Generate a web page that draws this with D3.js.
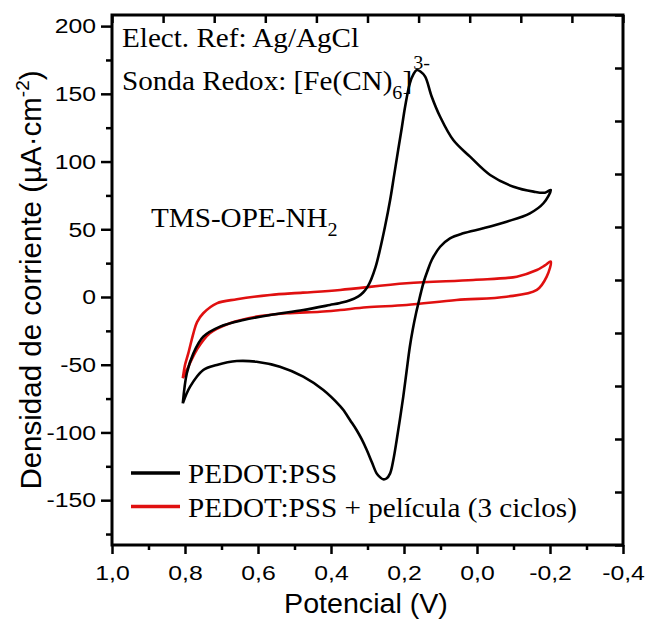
<!DOCTYPE html>
<html>
<head>
<meta charset="utf-8">
<script src="https://cdn.jsdelivr.net/npm/d3@7"></script>
<style>
  body { margin: 0; background: #fff; }
  .tk text { transform-box: fill-box; }
</style>
</head>
<body>
<svg id="cv" width="647" height="620"></svg>
<script>
// PEDOT:PSS (black) potential (V) / current density (uA cm-2)
const blackE = [0.806, 0.795, 0.777, 0.750, 0.704, 0.640, 0.567, 0.476, 0.403, 0.375, 0.348, 0.325, 0.312, 0.300, 0.290, 0.278, 0.266, 0.252, 0.238, 0.227, 0.216, 0.206, 0.197, 0.184, 0.174, 0.165, 0.155, 0.142, 0.124, 0.101, 0.065, 0.019, -0.036, -0.100, -0.155, -0.186, -0.202,
  -0.182, -0.145, -0.081, -0.017, 0.038, 0.074, 0.101, 0.124, 0.136, 0.145, 0.153, 0.160, 0.167, 0.176, 0.184, 0.193, 0.202, 0.211, 0.220, 0.229, 0.238, 0.248, 0.257, 0.266, 0.275, 0.288, 0.302, 0.316, 0.330, 0.348, 0.366, 0.375, 0.421, 0.476, 0.540, 0.604, 0.658, 0.713, 0.750, 0.786, 0.806];
const blackJ = [-78.5, -56.3, -41.6, -29.3, -21.9, -17.0, -13.3, -9.6, -5.9, -4.4, -2.4, 0.5, 3.3, 7.5, 13.0, 22.0, 34.7, 52.0, 71.6, 90.0, 108.5, 125.0, 140.5, 157.8, 164.5, 167.6, 166.5, 162.7, 147.9, 133.1, 115.9, 103.6, 90.1, 81.4, 77.8, 77.0, 79.0,
  69.2, 61.8, 55.6, 50.7, 47.0, 43.3, 37.1, 27.3, 19.0, 12.0, 4.0, -4.0, -12.0, -24.0, -36.7, -55.0, -73.6, -90.0, -105.6, -120.0, -130.2, -134.0, -134.6, -133.0, -130.2, -122.0, -113.0, -105.0, -98.2, -90.8, -83.4, -80.5, -68.7, -58.8, -51.5, -47.8, -47.3, -50.2, -53.9, -66.2, -78.5];

// PEDOT:PSS + película (3 ciclos) (red)
const redE = [0.806, 0.800, 0.791, 0.777, 0.767, 0.750, 0.713, 0.658, 0.567, 0.477, 0.375, 0.193, 0.010, -0.109, -0.164, -0.186, -0.202,
  -0.191, -0.164, -0.081, 0.056, 0.193, 0.302, 0.375, 0.430, 0.521, 0.604, 0.677, 0.732, 0.768, 0.795, 0.806];
const redJ = [-60.0, -50.2, -41.6, -26.8, -18.5, -12.0, -4.7, -1.7, 1.5, 3.2, 5.2, 10.1, 12.6, 15.0, 19.9, 23.3, 26.1,
  15.0, 5.2, 0.2, -2.2, -5.9, -7.6, -9.6, -10.9, -12.0, -14.5, -19.4, -26.8, -39.1, -53.9, -60.0];

const xTicks = [1.0, 0.8, 0.6, 0.4, 0.2, 0.0, -0.2, -0.4];
const xMinor = [0.9, 0.7, 0.5, 0.3, 0.1, -0.1, -0.3];
const yTicks = [-150, -100, -50, 0, 50, 100, 150, 200];
const yMinor = [-175, -125, -75, -25, 25, 75, 125, 175];

const seriesNames = ["PEDOT:PSS", "PEDOT:PSS + película (3 ciclos)"];
const seriesColors = ["#000000", "#e01010"];

const svg = d3.select("#cv");
const pL = 112, pR = 623, pT = 15, pB = 545;

const x = d3.scaleLinear().domain([1.0, -0.4]).range([pL, pR]);
const y = d3.scaleLinear().domain([-183.1, 208.2]).range([pB, pT]);

const fmt = v => d3.format(".1f")(v).replace(".", ",").replace("−", "-");

// bottom axis
svg.append("g").attr("class", "tk")
    .attr("transform", `translate(0,${pB})`)
    .call(d3.axisBottom(x).tickValues(xMinor).tickSize(5).tickFormat(""));
svg.append("g").attr("class", "tk xa")
    .attr("transform", `translate(0,${pB})`)
    .call(d3.axisBottom(x).tickValues(xTicks).tickSize(9).tickPadding(11).tickFormat(fmt));

// left axis
svg.append("g").attr("class", "tk")
    .attr("transform", `translate(${pL},0)`)
    .call(d3.axisLeft(y).tickValues(yMinor).tickSize(6).tickFormat(""));
svg.append("g").attr("class", "tk ya")
    .attr("transform", `translate(${pL},0)`)
    .call(d3.axisLeft(y).tickValues(yTicks).tickSize(11).tickPadding(5)
        .tickFormat(d => d < 0 ? "-" + Math.abs(d) : d));

// top / right axes: 10 equal inward divisions
const xTop = d3.scaleLinear().domain([0, 10]).range([pL, pR]);
const yRight = d3.scaleLinear().domain([0, 10]).range([pB, pT]);
svg.append("g").attr("class", "tk")
    .attr("transform", `translate(0,${pT})`)
    .call(d3.axisTop(xTop).ticks(10).tickSize(-8).tickFormat(""));
svg.append("g").attr("class", "tk")
    .attr("transform", `translate(${pR},0)`)
    .call(d3.axisRight(yRight).ticks(10).tickSize(-8).tickFormat(""));

svg.selectAll(".tk .domain").remove();
svg.selectAll(".tk line").attr("stroke", "#000").attr("stroke-width", 2.5);
svg.selectAll(".tk text")
    .attr("fill", "#000")
    .style("font-family", "'Liberation Sans', Arial, sans-serif")
    .style("font-size", "21px");
svg.selectAll(".xa text").style("transform-origin", "center").style("transform", "scaleX(1.18)");
svg.selectAll(".ya text").style("transform-origin", "right center").style("transform", "scaleX(1.18)");

// frame
svg.append("rect")
    .attr("x", pL).attr("y", pT)
    .attr("width", pR - pL).attr("height", pB - pT)
    .attr("fill", "none").attr("stroke", "#000").attr("stroke-width", 3);

// curves
const line = d3.line()
    .x(d => x(d[0]))
    .y(d => y(d[1]))
    .curve(d3.curveCatmullRom.alpha(0.5));

const series = [
    d3.zip(redE, redJ),
    d3.zip(blackE, blackJ)
];
svg.append("g").selectAll("path")
    .data(series)
    .join("path")
    .attr("d", line)
    .attr("fill", "none")
    .attr("stroke", (d, i) => i === 0 ? seriesColors[1] : seriesColors[0])
    .attr("stroke-width", 2.6)
    .attr("stroke-linejoin", "round");

// Times texts, slightly stretched like the original
const serif = "'Liberation Serif', 'Times New Roman', serif";
function label(px, py, parts, size) {
    let t = svg.append("text")
        .attr("transform", `translate(${px},${py}) scale(1.06,1)`)
        .style("font-family", serif)
        .style("font-size", size + "px")
        .attr("fill", "#000");
    parts.forEach(p => {
        t.append("tspan")
            .attr("dy", p.dy || 0)
            .attr("dx", p.dx || 0)
            .style("font-size", (p.size || size) + "px")
            .text(p.t);
    });
    return t;
}

label(122, 47, [{t: "Elect. Ref: Ag/AgCl"}], 27.5);
label(122, 90, [
    {t: "Sonda Redox: [Fe(CN)"},
    {t: "6", dy: 9, size: 19},
    {t: "]", dy: -9},
    {t: "3-", dy: -21, dx: 1, size: 19}
], 27.5);
label(151, 227, [{t: "TMS-OPE-NH"}, {t: "2", dy: 9, size: 19}], 27.5);

// legend
const leg = svg.append("g");
seriesNames.forEach((name, i) => {
    let ly = 473 + i * 33.5;
    leg.append("line")
        .attr("x1", 131).attr("x2", 180)
        .attr("y1", ly).attr("y2", ly)
        .attr("stroke", seriesColors[i]).attr("stroke-width", 3.5);
    label(188, ly + 10, [{t: name}], 27.5);
});

// axis titles
svg.append("text")
    .attr("transform", "translate(366,613) scale(1.06,1)")
    .attr("text-anchor", "middle")
    .style("font-family", "'Liberation Sans', Arial, sans-serif")
    .style("font-size", "27px")
    .text("Potencial (V)");

let yt = svg.append("text")
    .attr("transform", "translate(41,280) rotate(-90)")
    .attr("text-anchor", "middle")
    .style("font-family", "'Liberation Sans', Arial, sans-serif")
    .style("font-size", "29.5px");
yt.append("tspan").text("Densidad de corriente (µA·cm");
yt.append("tspan").attr("dy", -12).style("font-size", "19px").text("-2");
yt.append("tspan").attr("dy", 12).text(")");
</script>
</body>
</html>
